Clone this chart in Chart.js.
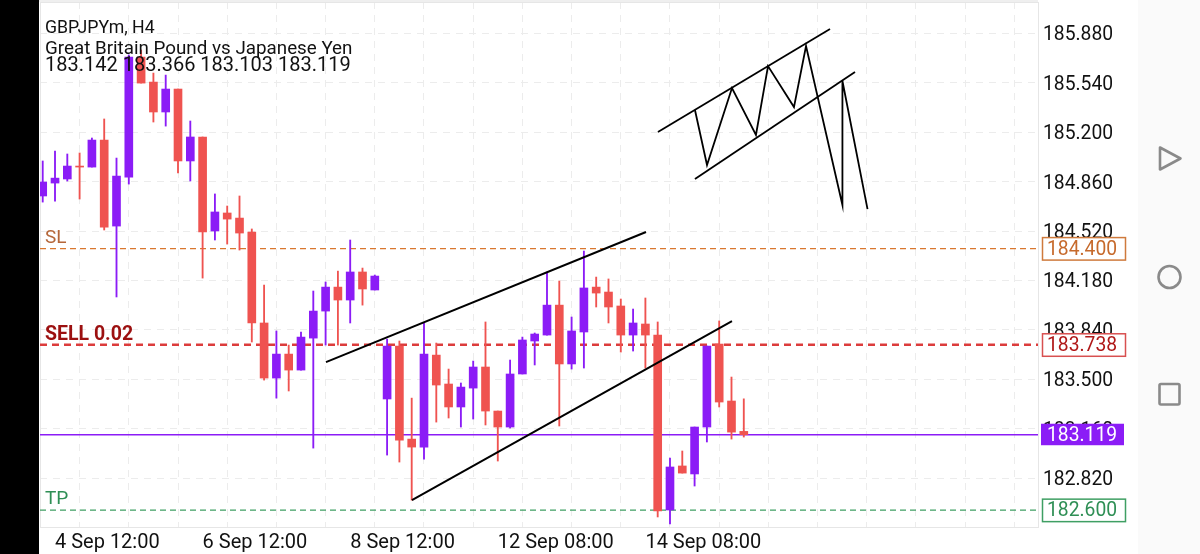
<!DOCTYPE html>
<html><head><meta charset="utf-8">
<style>
html,body{margin:0;padding:0;width:1200px;height:554px;overflow:hidden;background:#fff}
#side{position:absolute;left:0;top:0;width:39px;height:554px;background:#000}
#strip{position:absolute;left:39px;top:0;width:999px;height:2px;background:#efefef}
#nav{position:absolute;left:1138px;top:0;width:62px;height:554px;background:#fafafa}
canvas{position:absolute;left:0;top:0}
svg{position:absolute;left:0;top:0}
</style>
<script src="https://cdn.jsdelivr.net/npm/chart.js@4"></script>
</head><body>
<div id="side"></div><div id="strip"></div><div id="nav"></div>
<canvas id="c" width="1200" height="554"></canvas>
<svg width="1200" height="554" fill="none" stroke="#8a8a8a" stroke-width="2.6" stroke-linejoin="round">
<path d="M1160 147.5 L1180.5 158.5 L1160 169.5 Z"/>
<circle cx="1169.5" cy="277" r="11"/>
<rect x="1159.5" y="384" width="20" height="20.5" rx="1.5"/>
</svg>
<script>
const opens=[184.762,184.851,184.879,184.968,184.961,185.147,184.555,184.892,185.718,185.546,185.340,185.498,185.003,185.168,184.521,184.645,184.610,184.514,183.888,183.509,183.674,183.564,183.784,183.970,184.135,184.046,184.239,184.115,183.365,183.729,183.089,183.034,183.667,183.468,183.310,183.440,183.585,183.282,183.172,183.537,183.764,183.805,184.011,183.606,183.826,184.135,184.101,184.005,183.805,183.881,183.805,182.601,182.904,182.849,183.172,183.743,183.351,183.142];
const highs=[185.003,185.071,185.051,185.058,185.161,185.292,185.023,185.732,185.767,185.608,185.594,185.498,185.278,185.168,184.776,184.693,184.762,184.535,184.149,183.833,183.736,183.826,184.108,184.170,184.245,184.459,184.266,184.218,183.777,183.764,183.371,183.888,183.750,183.571,183.475,183.626,183.895,183.282,183.633,183.791,183.819,184.239,184.177,183.929,184.383,184.204,184.191,184.053,183.984,184.060,183.895,182.959,183.007,183.172,183.729,183.902,183.516,183.366];
const lows=[184.720,184.727,184.865,184.741,184.961,184.528,184.067,184.844,185.539,185.271,185.243,184.920,184.865,184.197,184.459,184.431,184.390,183.757,183.495,183.371,183.420,183.564,183.027,183.736,183.736,183.888,184.011,184.115,182.979,182.931,182.669,182.951,183.206,183.234,183.172,183.227,183.186,182.938,183.165,183.537,183.599,183.805,183.179,183.571,183.578,183.998,183.888,183.688,183.695,183.578,182.553,182.505,182.855,182.766,183.069,183.310,183.089,183.103];
const closes=[184.858,184.885,184.968,184.961,185.147,184.548,184.899,185.718,185.539,185.340,185.498,185.003,185.168,184.514,184.652,184.603,184.507,183.888,183.509,183.674,183.564,183.791,183.970,184.135,184.046,184.239,184.122,184.211,183.729,183.082,183.034,183.674,183.461,183.310,183.447,183.585,183.282,183.172,183.537,183.771,183.812,184.011,183.606,183.833,184.129,184.094,183.998,183.805,183.888,183.805,182.594,182.897,182.855,183.172,183.729,183.344,183.137,183.119];

const firstBarIndex=3;
const yTicks=[182.82,183.16,183.5,183.84,184.18,184.52,184.86,185.2,185.54,185.88];
const xTickIndex=[4,16,28,40,52];
const xTickLabels=['4 Sep 12:00','6 Sep 12:00','8 Sep 12:00','12 Sep 08:00','14 Sep 08:00'];

const xMin=2.78, xMax=83.92, yMin=182.484, yMax=186.097;

const levelValues=[184.4,183.738,183.119,182.6];
const levelNames=['SL','SELL 0.02','','TP'];
const levelLabels=['184.400','183.738','183.119','182.600'];

const trendUpperX=[26.03,52.05], trendUpperY=[183.619,184.514];
const trendLowerX=[33.02,59.04], trendLowerY=[182.669,183.901];
const sketchUpperX=[53.02,67.01], sketchUpperY=[185.202,185.911];
const sketchLowerX=[56.03,69.04], sketchLowerY=[184.879,185.615];
const zigzagX=[56.03,57.01,59.04,60.99,61.97,64.08,65.06,68.02,68.02,70.06];
const zigzagY=[185.354,184.975,185.505,185.182,185.656,185.374,185.794,184.700,185.553,184.672];

const titleLines=['GBPJPYm, H4','Great Britain Pound vs Japanese Yen','183.142 183.366 183.103 183.119'];

const UP='#8b1cf6', DOWN='#ef5350', GRID='#ececec', FONT='Roboto, sans-serif';
const levelColors=['#d9772f','#dc3c3c','#8b1cf6','#3f9f63'];
const levelDash=[[6,4],[7,5],[],[6,4]];
const levelWidth=[1.4,2.4,1.4,1.4];
const nameColors=['#b5673a','#9c1010','','#2f8f55'];
const badgeText=['#c66a2c','#b01818','#ffffff','#2f8f55'];
const badgeLine=['#cf7a3c','#d85050','#8b1cf6','#3f9f63'];

const barColors=closes.map((c,i)=>c<opens[i]?DOWN:UP);
const toPts=(xs,ys)=>xs.map((x,i)=>({x,y:ys[i]}));
const blackLine=(xs,ys,w)=>({type:'line',data:toPts(xs,ys),borderColor:'#000',borderWidth:w,pointRadius:0,tension:0,fill:false,order:1});

const datasets=[
  ...levelValues.map((v,i)=>({type:'line',data:[{x:xMin,y:v},{x:xMax,y:v}],borderColor:levelColors[i],borderWidth:levelWidth[i],borderDash:levelDash[i],pointRadius:0,fill:false,order:5})),
  {type:'bar',data:highs.map((h,i)=>({x:i+firstBarIndex,y:[lows[i],h]})),backgroundColor:barColors,barThickness:1.2,grouped:false,borderWidth:0,borderSkipped:false,order:4},
  {type:'bar',data:opens.map((o,i)=>({x:i+firstBarIndex,y:[o,closes[i]]})),backgroundColor:barColors,barThickness:8,grouped:false,borderWidth:0,borderSkipped:false,order:3},
  blackLine(trendUpperX,trendUpperY,2),
  blackLine(trendLowerX,trendLowerY,2),
  blackLine(sketchUpperX,sketchUpperY,1.8),
  blackLine(sketchLowerX,sketchLowerY,1.8),
  blackLine(zigzagX,zigzagY,1.8)
];

const overlay={id:'overlay',
  beforeDatasetsDraw(ch){
    const a=ch.chartArea,c=ch.ctx;c.save();c.strokeStyle='#e6e6e6';c.lineWidth=1;
    c.strokeRect(a.left+.5,a.top+.5,a.right-a.left,a.bottom-a.top);c.restore();
  },
  afterDraw(ch){
    const c=ch.ctx,y=ch.scales.y;c.save();
    c.textBaseline='middle';c.textAlign='left';c.fillStyle='#111';
    c.font='17.7px '+FONT;
    c.fillText(titleLines[0],45,28.5);
    c.font='18.8px '+FONT;
    c.fillText(titleLines[1],45,49);
    c.font='20px '+FONT;
    c.fillText(titleLines[2],45,65.5);
    levelValues.forEach((v,i)=>{
      const p=y.getPixelForValue(v);
      if(levelNames[i]){
        c.fillStyle=nameColors[i];
        c.font=(i===1?'bold 19.5px ':'19px ')+FONT;
        c.fillText(levelNames[i],45,p-(i===1?9.5:10.5));
      }
      if(i===2){
        c.fillStyle=UP;c.fillRect(1041,p-11,83,21.5);
      }else{
        c.fillStyle='#fff';c.fillRect(1042,p-11,84,22);
        c.strokeStyle=badgeLine[i];c.lineWidth=1.5;c.strokeRect(1042.5,p-11,83,22.5);
      }
      c.fillStyle=badgeText[i];c.font='19.3px '+FONT;
      c.fillText(levelLabels[i],1047,p+1.5);
    });
    c.restore();
  }
};

new Chart(document.getElementById('c'),{
  type:'bar',
  data:{datasets},
  plugins:[overlay],
  options:{
    responsive:false,animation:false,devicePixelRatio:1,
    layout:{padding:{left:40,top:2,right:0,bottom:0}},
    plugins:{legend:{display:false},tooltip:{enabled:false},title:{display:false}},
    scales:{
      x:{type:'linear',position:'bottom',min:xMin,max:xMax,offset:false,
        afterFit(s){s.height=27;s.paddingLeft=0;s.paddingRight=0;},
        grid:{color:GRID,drawTicks:false,lineWidth:1},
        border:{display:false,dash:[7,6]},
        ticks:{stepSize:4,includeBounds:false,autoSkip:false,maxRotation:0,align:'start',padding:4,color:'#111',font:{family:FONT,size:20},
          callback(v){const k=xTickIndex.indexOf(v);return k<0?'':xTickLabels[k];}}},
      y:{type:'linear',position:'right',min:yMin,max:yMax,
        afterFit(s){s.width=162;s.paddingTop=0;s.paddingBottom=0;},
        afterBuildTicks(s){s.ticks=yTicks.map(value=>({value}));},
        grid:{color:GRID,drawTicks:false,lineWidth:1},
        border:{display:false,dash:[7,6]},
        ticks:{padding:5,color:'#111',autoSkip:false,font:{family:FONT,size:19.3,lineHeight:'4px'},callback(v){return ['',v.toFixed(3)];}}}
    }
  }
});
</script>
</body></html>
